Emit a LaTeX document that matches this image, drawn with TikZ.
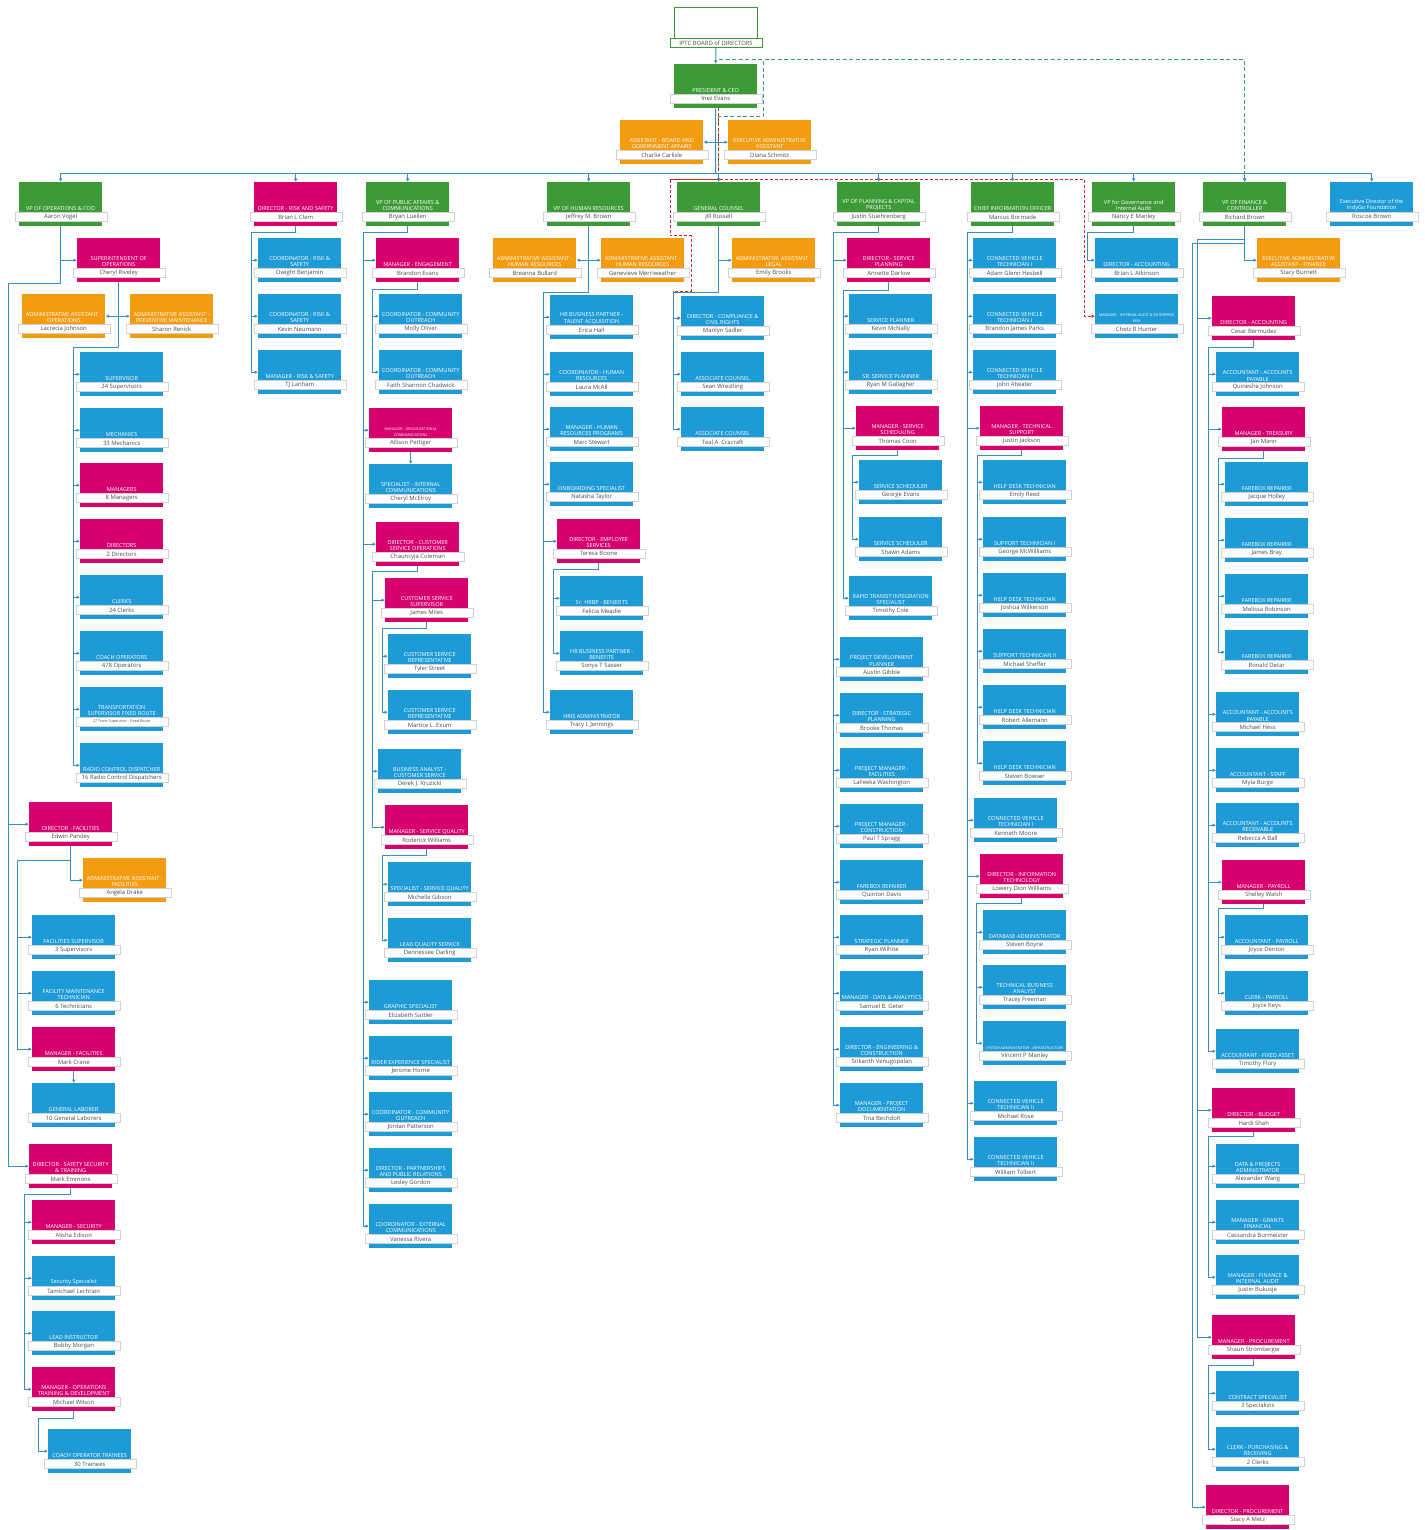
\documentclass[tikz,border=0pt]{standalone}
\usepackage{fontspec}
\setmainfont{Open Sans}
\usepackage{tikz}
\usetikzlibrary{positioning,arrows.meta,calc}
\hyphenpenalty=10000
\exhyphenpenalty=10000
\definecolor{cgreen}{HTML}{3C9B36}
\definecolor{cmag}{HTML}{D6006E}
\definecolor{cblue}{HTML}{1E9BD7}
\definecolor{corange}{HTML}{F39C12}
\definecolor{linkblue}{HTML}{3A8DC5}
\definecolor{dashred}{HTML}{C62828}
\definecolor{dashgreen}{HTML}{3AA36A}
\newcommand{\smalltxt}{\fontsize{3.7}{4.3}\selectfont}
% one box of the chart: name, left, top, colour, title, person
\newcommand{\orgcard}[6]{%
  \node[cardbox,fill=#4,anchor=north west] (#1) at (#2,#3) {};
  \node[namebar] (#1-n) at ([yshift=9.5pt]#1.south) {#6};
  \node[cardttl] (#1-t) at ([yshift=.4pt]#1-n.north) {#5};
}

\begin{document}
\begin{tikzpicture}[x=1pt,y=-1pt,
 cardbox/.style={minimum width=83pt,minimum height=44pt,inner sep=0pt,draw=none},
 namebar/.style={draw=black!18,fill=white,minimum width=92pt,minimum height=9pt,inner sep=0pt,font=\fontsize{5.9}{6.2}\selectfont,text=black!70},
 cardttl/.style={anchor=south,text=white,text width=80pt,align=flush center,inner sep=.6pt,font=\fontsize{5.55}{6.3}\selectfont},
 link/.style={draw=linkblue,line width=1pt},
 arr/.style={link,-{Latex[length=3.5pt,width=3.5pt]}},
 rdash/.style={draw=dashred,line width=1pt,dash pattern=on 3pt off 2pt},
 gdash/.style={draw=dashgreen,line width=1pt,dash pattern=on 4pt off 2.5pt}]
\useasboundingbox (0,0) rectangle (1424,1530);
%% top
\node[draw=cgreen,line width=1pt,fill=white,minimum width=83pt,minimum height=40pt,inner sep=0pt,anchor=north west] (board) at (674,7) {};
\node[namebar,draw=cgreen,line width=.8pt] (board-n) at ([yshift=5pt]board.south) {IPTC BOARD of DIRECTORS};
\orgcard{pres}{674}{64}{cgreen}{PRESIDENT \& CEO}{Inez Evans}
\orgcard{boardasst}{620}{120}{corange}{ASSISTANT - BOARD AND GOVERNMENT AFFAIRS}{Charlie Carlisle}
\orgcard{execasst}{728}{120}{corange}{EXECUTIVE ADMINISTRATIVE ASSISTANT}{Diana Schmitz}
%% leaders
\orgcard{vpops}{19}{182}{cgreen}{VP OF OPERATIONS \& COO}{Aaron Vogel}
\orgcard{risk}{254}{182}{cmag}{DIRECTOR - RISK AND SAFETY}{Brian L Clem}
\orgcard{vppa}{366}{182}{cgreen}{VP OF PUBLIC AFFAIRS \& COMMUNICATIONS}{Bryan Luellen}
\orgcard{vphr}{547}{182}{cgreen}{VP OF HUMAN RESOURCES}{Jeffrey M. Brown}
\orgcard{gc}{677}{182}{cgreen}{GENERAL COUNSEL}{Jill Russell}
\orgcard{vpplan}{837}{182}{cgreen}{VP OF PLANNING \& CAPITAL PROJECTS}{Justin Stuehrenberg}
\orgcard{cio}{971}{182}{cgreen}{CHIEF INFORMATION OFFICER}{Marcus Bormade}
\orgcard{vpgov}{1092}{182}{cgreen}{VP for Governance and Internal Audit}{Nancy E Manley}
\orgcard{vpfin}{1203}{182}{cgreen}{VP OF FINANCE \& CONTROLLER}{Richard Brown}
\orgcard{fdn}{1330}{182}{cblue}{Executive Director of the IndyGo Foundation}{Roscoe Brown}
%% operations
\orgcard{sup}{77}{238}{cmag}{SUPERINTENDENT OF OPERATIONS}{Cheryl Riveley}
\orgcard{opsasst}{22}{294}{corange}{ADMINISTRATIVE ASSISTANT - OPERATIONS}{Lacrecia Johnson}
\orgcard{pmasst}{130}{294}{corange}{ADMINISTRATIVE ASSISTANT - PREVENTIVE MAINTENANCE}{Sharon Renick}
\orgcard{supv}{80}{352}{cblue}{SUPERVISOR}{24 Supervisors}
\orgcard{mech}{80}{408}{cblue}{MECHANICS}{33 Mechanics}
\orgcard{mgrs}{80}{463}{cmag}{MANAGERS}{8 Managers}
\orgcard{dirs}{80}{519}{cmag}{DIRECTORS}{2 Directors}
\orgcard{clerks}{80}{575}{cblue}{CLERKS}{24 Clerks}
\orgcard{coach}{80}{631}{cblue}{COACH OPERATORS}{478 Operators}
\orgcard{transp}{80}{687}{cblue}{TRANSPORTATION SUPERVISOR FIXED ROUTE}{\smalltxt 27 Trans Supervisor - Fixed Route}
\orgcard{radio}{80}{743}{cblue}{RADIO CONTROL DISPATCHER}{16 Radio Control Dispatchers}
\orgcard{dirfac}{29}{802}{cmag}{DIRECTOR - FACILITIES}{Edwin Pandey}
\orgcard{facasst}{83}{858}{corange}{ADMINISTRATIVE ASSISTANT - FACILITIES}{Angela Drake}
\orgcard{facsup}{32}{915}{cblue}{FACILITIES SUPERVISOR}{3 Supervisors}
\orgcard{factech}{32}{971}{cblue}{FACILITY MAINTENANCE TECHNICIAN}{6 Technicians}
\orgcard{mgrfac}{32}{1027}{cmag}{MANAGER - FACILITIES}{Mark Crane}
\orgcard{laborer}{32}{1083}{cblue}{GENERAL LABORER}{10 General Laborers}
\orgcard{dirsst}{29}{1144}{cmag}{DIRECTOR - SAFETY SECURITY \& TRAINING}{Mark Emmons}
\orgcard{mgrsec}{32}{1200}{cmag}{MANAGER - SECURITY}{Alisha Edison}
\orgcard{secspec}{32}{1256}{cblue}{Security Specialist}{Tamichael Lechrain}
\orgcard{leadinst}{32}{1311}{cblue}{LEAD INSTRUCTOR}{Bobby Morgan}
\orgcard{mgrotd}{32}{1367}{cmag}{MANAGER - OPERATIONS TRAINING \& DEVELOPMENT}{Michael Wilson}
\orgcard{trainee}{48}{1429}{cblue}{COACH OPERATOR TRAINEES}{30 Trainees}
%% risk and safety
\orgcard{riskco1}{258}{238}{cblue}{COORDINATOR - RISK \& SAFETY}{Dwight Benjamin}
\orgcard{riskco2}{258}{294}{cblue}{COORDINATOR - RISK \& SAFETY}{Kevin Neumann}
\orgcard{riskmgr}{258}{350}{cblue}{MANAGER - RISK \& SAFETY}{TJ Lanham}
%% public affairs
\orgcard{mgreng}{376}{238}{cmag}{MANAGER - ENGAGEMENT}{Brandon Evans}
\orgcard{outr1}{379}{294}{cblue}{COORDINATOR - COMMUNITY OUTREACH}{Molly Oliver}
\orgcard{outr2}{379}{350}{cblue}{COORDINATOR - COMMUNITY OUTREACH}{Faith Shannon Chadwick}
\orgcard{mgroc}{369}{408}{cmag}{\smalltxt MANAGER - ORGANIZATIONAL COMMUNICATIONS}{Allison Pettiger}
\orgcard{intcom}{369}{464}{cblue}{SPECIALIST - INTERNAL COMMUNICATIONS}{Cheryl McElroy}
\orgcard{dircs}{376}{522}{cmag}{DIRECTOR - CUSTOMER SERVICE OPERATIONS}{Chauncyja Coleman}
\orgcard{cssup}{385}{578}{cmag}{CUSTOMER SERVICE SUPERVISOR}{James Miles}
\orgcard{csr1}{388}{634}{cblue}{CUSTOMER SERVICE REPRESENTATIVE}{Tyler Street}
\orgcard{csr2}{388}{690}{cblue}{CUSTOMER SERVICE REPRESENTATIVE}{Martice L. Exum}
\orgcard{csba}{378}{749}{cblue}{BUSINESS ANALYST - CUSTOMER SERVICE}{Derek J. Kruzicki}
\orgcard{mgrsq}{385}{805}{cmag}{MANAGER - SERVICE QUALITY}{Roderick Williams}
\orgcard{sqspec}{388}{862}{cblue}{SPECIALIST - SERVICE QUALITY}{Michelle Gibson}
\orgcard{sqlead}{388}{918}{cblue}{LEAD QUALITY SERVICE}{Dennessee Darling}
\orgcard{graphic}{369}{980}{cblue}{GRAPHIC SPECIALIST}{Elizabeth Sattler}
\orgcard{rider}{369}{1036}{cblue}{RIDER EXPERIENCE SPECIALIST}{Jerome Horne}
\orgcard{outr3}{369}{1092}{cblue}{COORDINATOR - COMMUNITY OUTREACH}{Jordan Patterson}
\orgcard{dirpr}{369}{1148}{cblue}{DIRECTOR - PARTNERSHIPS AND PUBLIC RELATIONS}{Lesley Gordon}
\orgcard{extcom}{369}{1204}{cblue}{COORDINATOR - EXTERNAL COMMUNICATIONS}{Vanessa Rivera}
%% human resources
\orgcard{hrasst1}{493}{238}{corange}{ADMINISTRATIVE ASSISTANT - HUMAN RESOURCES}{Breanna Bullard}
\orgcard{hrasst2}{601}{238}{corange}{ADMINISTRATIVE ASSISTANT - HUMAN RESOURCES}{Genevieve Merriweather}
\orgcard{hrta}{550}{295}{cblue}{HR BUSINESS PARTNER - TALENT ACQUISITION}{Erica Hall}
\orgcard{hrco}{550}{352}{cblue}{COORDINATOR - HUMAN RESOURCES}{Laura McAll}
\orgcard{hrprog}{550}{407}{cblue}{MANAGER - HUMAN RESOURCES PROGRAMS}{Marc Stewart}
\orgcard{onboard}{550}{462}{cblue}{ONBOARDING SPECIALIST}{Natasha Taylor}
\orgcard{dires}{557}{519}{cmag}{DIRECTOR - EMPLOYEE SERVICES}{Teresa Boone}
\orgcard{hrbp1}{560}{576}{cblue}{Sr. HRBP - BENEFITS}{Felicia Meadie}
\orgcard{hrbp2}{560}{631}{cblue}{HR BUSINESS PARTNER - BENEFITS}{Sonya T Sasser}
\orgcard{hris}{550}{690}{cblue}{HRIS ADMINISTRATOR}{Tracy L Jennings}
%% legal
\orgcard{legasst}{732}{238}{corange}{ADMINISTRATIVE ASSISTANT - LEGAL}{Emily Brooks}
\orgcard{dircomp}{681}{296}{cblue}{DIRECTOR - COMPLIANCE \& CIVIL RIGHTS}{Marilyn Sadler}
\orgcard{acoun1}{681}{352}{cblue}{ASSOCIATE COUNSEL}{Sean Wrestling}
\orgcard{acoun2}{681}{407}{cblue}{ASSOCIATE COUNSEL}{Teal A. Cracraft}
%% planning
\orgcard{dirsp}{847}{238}{cmag}{DIRECTOR - SERVICE PLANNING}{Annette Darlow}
\orgcard{splan}{849}{294}{cblue}{SERVICE PLANNER}{Kevin McNally}
\orgcard{srplan}{849}{350}{cblue}{SR. SERVICE PLANNER}{Ryan M Gallagher}
\orgcard{mgrss}{856}{406}{cmag}{MANAGER - SERVICE SCHEDULING}{Thomas Coon}
\orgcard{ssch1}{859}{460}{cblue}{SERVICE SCHEDULER}{George Evans}
\orgcard{ssch2}{859}{517}{cblue}{SERVICE SCHEDULER}{Shawn Adams}
\orgcard{rapid}{849}{576}{cblue}{RAPID TRANSIT INTEGRATION SPECIALIST}{Timothy Cole}
\orgcard{projdev}{840}{637}{cblue}{PROJECT DEVELOPMENT PLANNER}{Austin Gibble}
\orgcard{dirstrat}{840}{693}{cblue}{DIRECTOR - STRATEGIC PLANNING}{Brooke Thomas}
\orgcard{pmfac}{840}{748}{cblue}{PROJECT MANAGER - FACILITIES}{LaFeeka Washington}
\orgcard{pmcon}{840}{804}{cblue}{PROJECT MANAGER - CONSTRUCTION}{Paul T Spragg}
\orgcard{fbplan}{840}{860}{cblue}{FAREBOX REPAIRER}{Quinton Davis}
\orgcard{stratpl}{840}{915}{cblue}{STRATEGIC PLANNER}{Ryan Wilhite}
\orgcard{mgrdata}{840}{971}{cblue}{MANAGER - DATA \& ANALYTICS}{Samuel B. Geter}
\orgcard{direng}{840}{1027}{cblue}{DIRECTOR - ENGINEERING \& CONSTRUCTION}{Srikanth Venugopalan}
\orgcard{mgrdoc}{840}{1083}{cblue}{MANAGER - PROJECT DOCUMENTATION}{Tina Bechdolt}
%% information technology
\orgcard{cvt1}{973}{238}{cblue}{CONNECTED VEHICLE TECHNICIAN I}{Adam Glenn Hesbell}
\orgcard{cvt2}{973}{294}{cblue}{CONNECTED VEHICLE TECHNICIAN I}{Brandon James Parks}
\orgcard{cvt3}{973}{350}{cblue}{CONNECTED VEHICLE TECHNICIAN I}{John Atwater}
\orgcard{mgrts}{980}{406}{cmag}{MANAGER - TECHNICAL SUPPORT}{Justin Jackson}
\orgcard{hd1}{983}{460}{cblue}{HELP DESK TECHNICIAN}{Emily Reed}
\orgcard{st1}{983}{517}{cblue}{SUPPORT TECHNICIAN I}{George McWilliams}
\orgcard{hd2}{983}{573}{cblue}{HELP DESK TECHNICIAN}{Joshua Wilkerson}
\orgcard{st2}{983}{629}{cblue}{SUPPORT TECHNICIAN II}{Michael Sheffer}
\orgcard{hd3}{983}{685}{cblue}{HELP DESK TECHNICIAN}{Robert Allemann}
\orgcard{hd4}{983}{741}{cblue}{HELP DESK TECHNICIAN}{Steven Bowser}
\orgcard{cvt4}{974}{798}{cblue}{CONNECTED VEHICLE TECHNICIAN I}{Kenneth Moore}
\orgcard{dirit}{980}{854}{cmag}{DIRECTOR - INFORMATION TECHNOLOGY}{Lowery Dion Williams}
\orgcard{dba}{983}{910}{cblue}{DATABASE ADMINISTRATOR}{Steven Boyne}
\orgcard{tba}{983}{965}{cblue}{TECHNICAL BUSINESS ANALYST}{Tracey Freeman}
\orgcard{sysadm}{983}{1021}{cblue}{\smalltxt SYSTEM ADMINISTRATOR - INFRASTRUCTURE}{Vincent P Manley}
\orgcard{cvt5}{974}{1081}{cblue}{CONNECTED VEHICLE TECHNICIAN II}{Michael Rose}
\orgcard{cvt6}{974}{1137}{cblue}{CONNECTED VEHICLE TECHNICIAN II}{William Tolbert}
%% governance
\orgcard{diracct}{1095}{238}{cblue}{DIRECTOR - ACCOUNTING}{Brian L Atkinson}
\orgcard{audit}{1095}{294}{cblue}{\smalltxt MANAGER - INTERNAL AUDIT \& ENTERPRISE RISK}{Chetz R Hunter}
%% finance
\orgcard{finasst}{1257}{238}{corange}{EXECUTIVE ADMINISTRATIVE ASSISTANT - FINANCE}{Stacy Burnett}
\orgcard{diraccf}{1212}{296}{cmag}{DIRECTOR - ACCOUNTING}{Cesar Bermudez}
\orgcard{ap1}{1216}{352}{cblue}{ACCOUNTANT - ACCOUNTS PAYABLE}{Quinesha Johnson}
\orgcard{treas}{1222}{407}{cmag}{MANAGER - TREASURY}{Jan Mann}
\orgcard{fr1}{1225}{462}{cblue}{FAREBOX REPAIRER}{Jacque Holley}
\orgcard{fr2}{1225}{518}{cblue}{FAREBOX REPAIRER}{James Bray}
\orgcard{fr3}{1225}{574}{cblue}{FAREBOX REPAIRER}{Melissa Robinson}
\orgcard{fr4}{1225}{630}{cblue}{FAREBOX REPAIRER}{Ronald Detar}
\orgcard{ap2}{1216}{692}{cblue}{ACCOUNTANT - ACCOUNTS PAYABLE}{Michael Hess}
\orgcard{acstaff}{1216}{748}{cblue}{ACCOUNTANT - STAFF}{Myla Burge}
\orgcard{ar}{1216}{803}{cblue}{ACCOUNTANT - ACCOUNTS RECEIVABLE}{Rebecca A Ball}
\orgcard{payroll}{1222}{860}{cmag}{MANAGER - PAYROLL}{Shelley Walsh}
\orgcard{accpay}{1225}{915}{cblue}{ACCOUNTANT - PAYROLL}{Joyce Denton}
\orgcard{clkpay}{1225}{971}{cblue}{CLERK - PAYROLL}{Joyce Keys}
\orgcard{fixed}{1216}{1029}{cblue}{ACCOUNTANT - FIXED ASSET}{Timothy Flory}
\orgcard{dirbud}{1212}{1088}{cmag}{DIRECTOR - BUDGET}{Hardi Shah}
\orgcard{datapr}{1216}{1144}{cblue}{DATA \& PROJECTS ADMINISTRATOR}{Alexander Wang}
\orgcard{grants}{1216}{1200}{cblue}{MANAGER - GRANTS FINANCIAL}{Cassandra Burmeister}
\orgcard{finaud}{1216}{1255}{cblue}{MANAGER - FINANCE \& INTERNAL AUDIT}{Justin Bukusje}
\orgcard{mgrproc}{1212}{1315}{cmag}{MANAGER - PROCUREMENT}{Shaun Stromberger}
\orgcard{contr}{1216}{1371}{cblue}{CONTRACT SPECIALIST}{3 Specialists}
\orgcard{clkpur}{1216}{1427}{cblue}{CLERK - PURCHASING \& RECEIVING}{2 Clerks}
\orgcard{dirproc}{1206}{1485}{cmag}{DIRECTOR - PROCUREMENT}{Stacy A Metz}
%% dotted reporting lines
\coordinate (gd0) at (719,60);
\coordinate (gd1) at (763,117);
\draw[gdash,-{Latex[length=3.5pt,width=3.5pt]}] (gd0) -| (gd1) -| (gc.north);
\draw[gdash,-{Latex[length=3.5pt,width=3.5pt]}] (gd0) -| (vpfin.north);
\coordinate (rdl) at (670,180);
\coordinate (rdr) at (1084,180);
\draw[rdash] ([xshift=3pt]pres.south) |- (rdl);
\draw[rdash] (rdl) -- (rdr);
\draw[rdash,-{Latex[length=3.5pt,width=3.5pt]}] (rdr) |- (audit.west);
\draw[rdash,-{Latex[length=3.5pt,width=3.5pt]}] (rdl) -- ++(0,56) -- ++(21,0) -- ++(0,55) -- ++(-18,0) |- (dircomp.west);
%% top links
\draw[arr] (board.south) -- (pres.north);
\coordinate (bus) at (715.5,174);
\draw[link] (pres.south) -- (bus);
\coordinate (pres-a) at (pres.south |- boardasst.east);
\draw[arr] (pres-a) -- (boardasst.east);
\draw[arr] (pres-a) -- (execasst.west);
\foreach \v in {vpops,risk,vppa,vphr,gc,vpplan,cio,vpgov,vpfin,fdn}
  \draw[arr] (bus) -| (\v.north);
%% operations links
\coordinate (ops-j) at (8,283);
\draw[link] (vpops.south) |- (ops-j);
\draw[arr] (vpops.south) |- (sup.west);
\draw[arr] (ops-j) |- (dirfac.west);
\draw[arr] (ops-j) |- (dirsst.west);
\coordinate (sup-j) at (73,347);
\draw[link] (sup.south) |- (sup-j);
\coordinate (sup-a) at (sup.south |- opsasst.east);
\draw[arr] (sup-a) -- (opsasst.east);
\draw[arr] (sup-a) -- (pmasst.west);
\foreach \c in {supv,mech,mgrs,dirs,clerks,coach,transp,radio}
  \draw[arr] (sup-j) |- (\c.west);
\coordinate (fac-j) at (17,860);
\draw[link] (dirfac.south) |- (fac-j);
\draw[arr] (dirfac.south) |- (facasst.west);
\foreach \c in {facsup,factech,mgrfac}
  \draw[arr] (fac-j) |- (\c.west);
\draw[arr] (mgrfac.south) -- (laborer.north);
\coordinate (sst-j) at (24,1194);
\draw[link] (dirsst.south) |- (sst-j);
\foreach \c in {mgrsec,secspec,leadinst,mgrotd}
  \draw[arr] (sst-j) |- (\c.west);
\coordinate (otd-j) at (38,1418);
\draw[link] (mgrotd.south) |- (otd-j);
\draw[arr] (otd-j) |- (trainee.west);
%% risk links
\coordinate (risk-j) at (251,233);
\draw[link] (risk.south) |- (risk-j);
\foreach \c in {riskco1,riskco2,riskmgr}
  \draw[arr] (risk-j) |- (\c.west);
%% public affairs links
\coordinate (pa-j) at (363,233);
\draw[link] (vppa.south) |- (pa-j);
\foreach \c in {mgreng,mgroc,dircs,graphic,rider,outr3,dirpr,extcom}
  \draw[arr] (pa-j) |- (\c.west);
\coordinate (eng-j) at (372,289);
\draw[link] (mgreng.south) |- (eng-j);
\foreach \c in {outr1,outr2}
  \draw[arr] (eng-j) |- (\c.west);
\draw[arr] (mgroc.south) -- (intcom.north);
\coordinate (cs-j) at (372,571);
\draw[link] (dircs.south) |- (cs-j);
\foreach \c in {cssup,csba,mgrsq}
  \draw[arr] (cs-j) |- (\c.west);
\coordinate (css-j) at (382,628);
\draw[link] (cssup.south) |- (css-j);
\foreach \c in {csr1,csr2}
  \draw[arr] (css-j) |- (\c.west);
\coordinate (sq-j) at (382,855);
\draw[link] (mgrsq.south) |- (sq-j);
\foreach \c in {sqspec,sqlead}
  \draw[arr] (sq-j) |- (\c.west);
%% human resources links
\coordinate (hr-j) at (543,292);
\draw[link] (vphr.south) |- (hr-j);
\coordinate (hr-a) at (vphr.south |- hrasst1.east);
\draw[arr] (hr-a) -- (hrasst1.east);
\draw[arr] (hr-a) -- (hrasst2.west);
\foreach \c in {hrta,hrco,hrprog,onboard,dires,hris}
  \draw[arr] (hr-j) |- (\c.west);
\coordinate (es-j) at (553,569);
\draw[link] (dires.south) |- (es-j);
\foreach \c in {hrbp1,hrbp2}
  \draw[arr] (es-j) |- (\c.west);
%% legal links
\coordinate (gc-j) at (673,292);
\draw[link] (gc.south) |- (gc-j);
\draw[arr] (gc.south) |- (legasst.west);
\foreach \c in {dircomp,acoun1,acoun2}
  \draw[arr] (gc-j) |- (\c.west);
%% planning links
\coordinate (plan-j) at (833,233);
\draw[link] (vpplan.south) |- (plan-j);
\foreach \c in {dirsp,projdev,dirstrat,pmfac,pmcon,fbplan,stratpl,mgrdata,direng,mgrdoc}
  \draw[arr] (plan-j) |- (\c.west);
\coordinate (sp-j) at (843,290);
\draw[link] (dirsp.south) |- (sp-j);
\foreach \c in {splan,srplan,mgrss,rapid}
  \draw[arr] (sp-j) |- (\c.west);
\coordinate (ss-j) at (852,455);
\draw[link] (mgrss.south) |- (ss-j);
\foreach \c in {ssch1,ssch2}
  \draw[arr] (ss-j) |- (\c.west);
%% it links
\coordinate (cio-j) at (967,233);
\draw[link] (cio.south) |- (cio-j);
\foreach \c in {cvt1,cvt2,cvt3,mgrts,cvt4,dirit,cvt5,cvt6}
  \draw[arr] (cio-j) |- (\c.west);
\coordinate (ts-j) at (977,455);
\draw[link] (mgrts.south) |- (ts-j);
\foreach \c in {hd1,st1,hd2,st2,hd3,hd4}
  \draw[arr] (ts-j) |- (\c.west);
\coordinate (it-j) at (976,903);
\draw[link] (dirit.south) |- (it-j);
\foreach \c in {dba,tba,sysadm}
  \draw[arr] (it-j) |- (\c.west);
%% governance links
\coordinate (gov-j) at (1087,233);
\draw[link] (vpgov.south) |- (gov-j);
\draw[arr] (gov-j) |- (diracct.west);
%% finance links
\draw[arr] (vpfin.south) |- (finasst.west);
\coordinate (fin-j1) at (1197,240);
\coordinate (fin-j2) at (1192,244);
\draw[link] (vpfin.south) |- (fin-j1);
\draw[link] (vpfin.south) |- (fin-j2);
\foreach \c in {diraccf,dirbud,mgrproc}
  \draw[arr] (fin-j1) |- (\c.west);
\draw[arr] (fin-j2) |- (dirproc.west);
\coordinate (acc-j) at (1208,347);
\draw[link] (diraccf.south) |- (acc-j);
\foreach \c in {ap1,treas,ap2,acstaff,ar,payroll,fixed}
  \draw[arr] (acc-j) |- (\c.west);
\coordinate (tr-j) at (1218,458);
\draw[link] (treas.south) |- (tr-j);
\foreach \c in {fr1,fr2,fr3,fr4}
  \draw[arr] (tr-j) |- (\c.west);
\coordinate (pay-j) at (1218,908);
\draw[link] (payroll.south) |- (pay-j);
\foreach \c in {accpay,clkpay}
  \draw[arr] (pay-j) |- (\c.west);
\coordinate (bud-j) at (1208,1136);
\draw[link] (dirbud.south) |- (bud-j);
\foreach \c in {datapr,grants,finaud}
  \draw[arr] (bud-j) |- (\c.west);
\coordinate (proc-j) at (1208,1365);
\draw[link] (mgrproc.south) |- (proc-j);
\foreach \c in {contr,clkpur}
  \draw[arr] (proc-j) |- (\c.west);
\end{tikzpicture}
\end{document}
